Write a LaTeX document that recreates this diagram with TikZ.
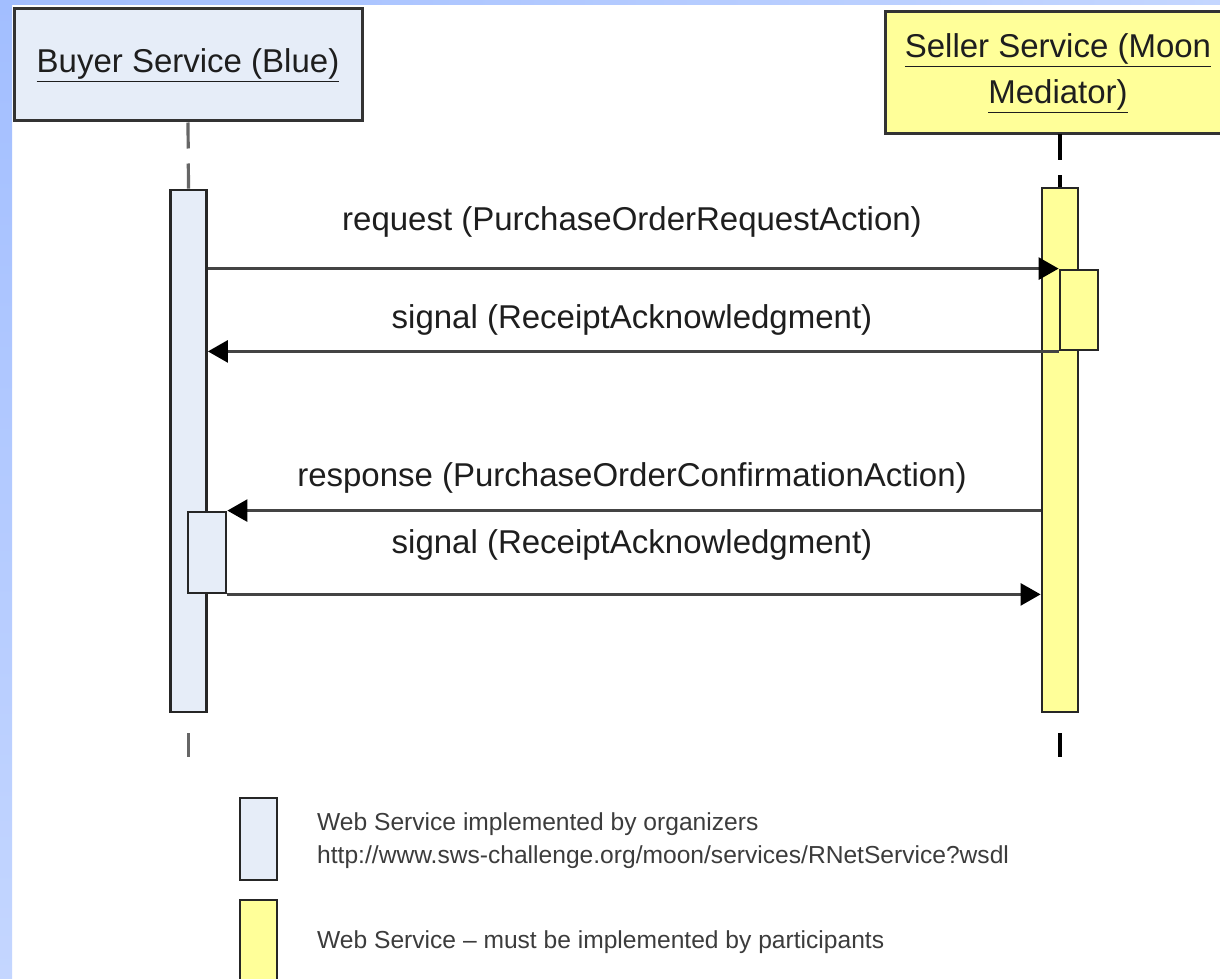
\documentclass[tikz,border=0pt]{standalone}
\usepackage{fontspec}
\setmainfont{Liberation Sans}
\usetikzlibrary{arrows.meta}
\definecolor{bluefill}{HTML}{E6EDF8}
\definecolor{yelfill}{HTML}{FFFF99}
\definecolor{stripA}{HTML}{A2BEFF}
\definecolor{stripB}{HTML}{C4D6FF}
\definecolor{linegray}{HTML}{444444}
\definecolor{txt}{HTML}{1E1E1E}
\definecolor{legtxt}{HTML}{3C3C3C}
\tikzset{
  header/.style={draw=black!80, line width=3pt, inner sep=0pt, align=center, text=txt,
    font=\fontsize{33}{46}\selectfont},
  bar/.style={draw=black!85, line width=2.8pt, inner sep=0pt, minimum width=36pt},
  lifeline/.style={line width=3.2pt, dash pattern=on 26pt off 15pt},
  msg/.style={draw=linegray, line width=2.8pt, -{Triangle[length=20pt,width=22pt,color=black]}},
  msglabel/.style={text=txt, font=\fontsize{33}{38}\selectfont, inner sep=0pt},
  legtext/.style={text=legtxt, font=\fontsize{24.6}{33}\selectfont, align=left, inner sep=0pt, anchor=west},
}
\begin{document}
\begin{tikzpicture}[x=1pt,y=-1pt]
\useasboundingbox (0,0) rectangle (1220,979);
\fill[white] (0,0) rectangle (1220,979);
% blue frame strips
\shade[top color=stripA, bottom color=stripB] (0,0) rectangle (12,979);
\shade[left color=stripA, right color=stripB] (0,0) rectangle (1220,5);

% headers
\node[header, fill=bluefill, minimum width=348pt, minimum height=112pt] (buyer) at (188,65)
  {\underline{Buyer Service (Blue)}};
\begin{scope}
\clip (0,0) rectangle (1220,979);
\node[header, fill=yelfill, minimum width=346pt, minimum height=122pt] (seller) at (1058,73)
  {\underline{Seller Service (Moon}\\\underline{Mediator)}};
\end{scope}

% activation bars
\node[bar, fill=bluefill, minimum height=522pt] (bbar) at (188.5,451) {};
\node[bar, fill=yelfill, minimum height=524pt] (sbar) at (1060,450) {};

% lifelines
\draw[lifeline, draw=black!60] (buyer.south) -- (bbar.north);
\draw[lifeline, draw=black] (1060,134) -- (sbar.north);
\coordinate (bend) at (188.5,757);
\coordinate (send) at (1060,757);
\draw[line width=3.2pt, draw=black!60] (188.5,733) -- (bend);
\draw[line width=3.2pt, draw=black] (1060,733) -- (send);

% inner activation boxes
\node[bar, fill=yelfill, minimum width=38pt, minimum height=80pt] (sin) at (1079,310) {};
\node[bar, fill=bluefill, minimum width=38pt, minimum height=81pt] (bin) at (207,552.5) {};

% messages
\draw[msg] (bbar.east |- sin.north) -- (sin.north west);
\draw[msg] (sin.south west) -- (bbar.east |- sin.south);
\draw[msg] (sbar.west |- bin.north) -- (bin.north east);
\draw[msg] (bin.south east) -- (sbar.west |- bin.south);

% message labels
\node[msglabel] (l1) at (632,222) {request (PurchaseOrderRequestAction)};
\node[msglabel] (l2) at (632,320) {signal (ReceiptAcknowledgment)};
\node[msglabel] (l3) at (632,478) {response (PurchaseOrderConfirmationAction)};
\node[msglabel] (l4) at (632,545) {signal (ReceiptAcknowledgment)};

% legend
\node[bar, fill=bluefill, minimum width=37pt, minimum height=82pt] (legb) at (258.5,839) {};
\node[bar, fill=yelfill, minimum width=37pt, minimum height=84pt] (legy) at (258.5,942) {};
\node[legtext] (legbt) at (317,841)
  {Web Service implemented by organizers\\http://www.sws-challenge.org/moon/services/RNetService?wsdl};
\node[legtext] (legyt) at (317,942) {Web Service -- must be implemented by participants};
\end{tikzpicture}
\end{document}
